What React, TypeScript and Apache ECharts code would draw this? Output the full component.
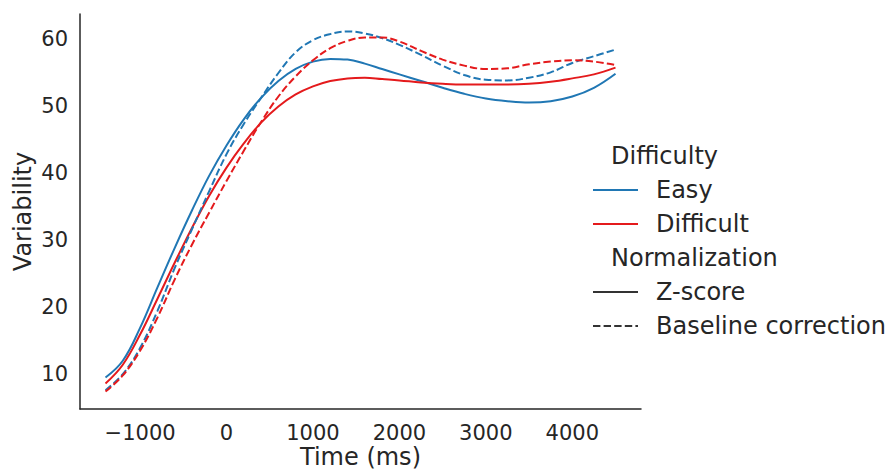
import React, { useEffect, useRef } from "react";
import * as echarts from "echarts";

const times = [-1400, -1200, -1000, -800, -600, -400, -200, 0, 200, 400, 600, 800, 1000, 1200, 1400, 1600, 1800, 2000, 2250, 2500, 2750, 3000, 3250, 3500, 3750, 4000, 4250, 4500];

const easyZ = [9.5, 12.0, 16.9, 22.9, 28.8, 34.4, 39.6, 44.1, 48.0, 51.2, 53.7, 55.5, 56.6, 57.0, 56.9, 56.3, 55.5, 54.7, 53.7, 52.7, 51.8, 51.1, 50.7, 50.5, 50.7, 51.4, 52.7, 54.8];
const difficultZ = [8.6, 11.4, 15.9, 21.2, 26.6, 31.8, 36.6, 40.8, 44.4, 47.5, 49.9, 51.7, 52.9, 53.7, 54.1, 54.2, 54.0, 53.8, 53.5, 53.3, 53.2, 53.2, 53.2, 53.3, 53.6, 54.1, 54.7, 55.7];
const easyBase = [7.6, 10.0, 13.9, 19.4, 25.8, 31.6, 37.3, 42.8, 47.3, 51.2, 54.9, 58.0, 59.8, 60.7, 61.1, 60.8, 60.1, 59.1, 57.6, 56.0, 54.6, 53.9, 53.8, 54.2, 55.0, 56.4, 57.4, 58.4];
const difficultBase = [7.4, 9.8, 13.5, 18.4, 24.1, 29.3, 34.1, 38.8, 43.3, 47.6, 51.4, 54.4, 56.8, 58.6, 59.7, 60.2, 60.2, 59.6, 58.2, 56.9, 56.0, 55.5, 55.6, 56.2, 56.6, 56.8, 56.6, 56.1];

const xTicks = [-1000, 0, 1000, 2000, 3000, 4000];
const yTicks = [10, 20, 30, 40, 50, 60];

const BLUE = "#2077b4";
const RED = "#e41a1c";
const INK = "#262626";
const FONT = "DejaVu Sans";

const pair = (vals: number[]) => times.map((t, i) => [t, vals[i]]);

export default function App() {
  const ref = useRef<HTMLDivElement>(null);
  useEffect(() => {
    if (!ref.current) return;
    const chart = echarts.init(ref.current, undefined, { renderer: "svg" });
    const lineSeries = (name: string, vals: number[], color: string, dashed: boolean) => ({
      name,
      type: "line",
      data: pair(vals),
      smooth: 0.4,
      showSymbol: false,
      symbol: "none",
      lineStyle: { color, width: 2, type: dashed ? [7.4, 3.2] : "solid" },
    });
    const legendRow = (y: number, label: string, color: string | null, dashed: boolean) => {
      const els: any[] = [];
      if (color) {
        els.push({
          type: "line",
          shape: { x1: 593, y1: y, x2: 638, y2: y },
          style: { stroke: color, lineWidth: 2, lineDash: dashed ? [7.4, 3.2] : null },
        });
        els.push({
          type: "text",
          x: 656,
          y,
          style: { text: label, fill: INK, font: `24px "${FONT}"`, verticalAlign: "middle", align: "left" },
        });
      } else {
        els.push({
          type: "text",
          x: 611,
          y,
          style: { text: label, fill: INK, font: `24px "${FONT}"`, verticalAlign: "middle", align: "left" },
        });
      }
      return els;
    };
    chart.setOption({
      animation: false,
      backgroundColor: "#ffffff",
      textStyle: { fontFamily: FONT },
      grid: { left: 80, right: 246, top: 14, bottom: 64, containLabel: false, outerBoundsMode: "none" },
      xAxis: {
        type: "value",
        min: -1695,
        max: 4795,
        name: "Time (ms)",
        nameLocation: "middle",
        nameGap: 36,
        nameMoveOverlap: false,
        nameTextStyle: { color: INK, fontSize: 24, fontFamily: FONT },
        axisLine: { show: true, onZero: false, lineStyle: { color: INK, width: 1.5 } },
        axisTick: { show: false },
        splitLine: { show: false },
        axisLabel: {
          customValues: xTicks,
          color: INK,
          fontSize: 21,
          fontFamily: FONT,
          margin: 13,
          formatter: (v: number) => (v < 0 ? "\u2212" + Math.abs(v) : String(v)),
        },
      },
      yAxis: {
        type: "value",
        min: 4.8,
        max: 63.7,
        name: "Variability",
        nameLocation: "middle",
        nameGap: 45,
        nameMoveOverlap: false,
        nameTextStyle: { color: INK, fontSize: 24, fontFamily: FONT },
        axisLine: { show: true, onZero: false, lineStyle: { color: INK, width: 1.5 } },
        axisTick: { show: false },
        splitLine: { show: false },
        axisLabel: {
          customValues: yTicks,
          color: INK,
          fontSize: 21,
          fontFamily: FONT,
          margin: 12,
        },
      },
      series: [
        lineSeries("Easy Z-score", easyZ, BLUE, false),
        lineSeries("Difficult Z-score", difficultZ, RED, false),
        lineSeries("Easy Baseline correction", easyBase, BLUE, true),
        lineSeries("Difficult Baseline correction", difficultBase, RED, true),
      ],
      graphic: [
        ...legendRow(156, "Difficulty", null, false),
        ...legendRow(190, "Easy", BLUE, false),
        ...legendRow(224, "Difficult", RED, false),
        ...legendRow(258, "Normalization", null, false),
        ...legendRow(292, "Z-score", "#333333", false),
        ...legendRow(326, "Baseline correction", "#333333", true),
      ],
    });
    return () => chart.dispose();
  }, []);
  return <div ref={ref} style={{ position: "fixed", left: 0, top: 0, width: 887, height: 473 }} />;
}
